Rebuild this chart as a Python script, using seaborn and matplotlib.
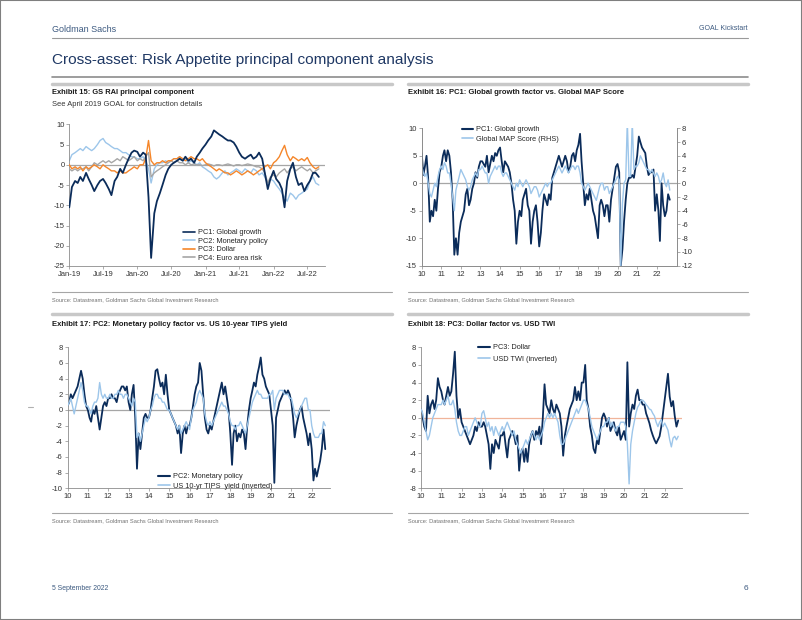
import pandas as pd
import matplotlib
matplotlib.use('Agg')
import matplotlib.pyplot as plt
import matplotlib.dates as mdates
from matplotlib.lines import Line2D
from matplotlib.patches import Rectangle
import seaborn as sns

# ---- data ----
# Exhibit 15: semi-monthly, Jan-19 .. Sep-22
rai_pc1 = [-10.5, -5.5, -4.0, -4.5, -3.0, -4.0, -2.0, -3.5, -5.0, -6.5,
           -5.0, -4.0, -3.5, -4.5, -6.0, -7.5, -4.0, -3.0, -1.0, -2.0,
           0.0, 1.5, 3.0, 3.5, 3.2, 2.0, 3.0, 2.5, -8.0, -23.0,
           -12.0, -9.0, -7.0, -5.0, -2.5, -1.0, 0.0, 0.5, 1.0, 1.5,
           1.0, 2.0, 1.0, 1.5, 0.5, 2.0, 3.0, 4.0, 5.0, 6.0,
           7.0, 8.5, 8.0, 7.5, 7.0, 6.5, 6.0, 6.0, 5.5, 4.5,
           3.0, 2.0, 1.5, 2.0, 2.5, 1.5, 2.0, 3.0, 1.5, -2.0,
           -6.0, -3.5, -1.5, -3.5, -4.5, -6.0, -10.5, -4.0, -1.0, 0.5,
           -3.0, -5.0, -4.5, -6.5, -5.0, -4.0, -2.0, -2.0, -3.0]
rai_pc2 = [1.0, 2.5, 3.0, 3.5, 4.0, 3.5, 4.5, 4.0, 3.5, 4.0,
           5.0, 6.0, 6.5, 5.5, 5.0, 4.5, 4.0, 4.0, 3.5, 3.0,
           3.0, 2.5, 2.0, 2.0, 1.5, 1.5, 2.0, 1.0, -1.0, -4.5,
           -1.0, 0.0, 0.5, 0.5, 1.0, 0.5, 1.0, 1.5, 1.5, 2.0,
           1.0, 1.5, 0.5, 1.0, 0.5, 0.0, 0.5, -0.5, -1.0, -1.5,
           -2.0, -3.0, -3.5, -3.0, -2.0, -1.5, -2.5, -2.0, -1.5, -1.0,
           -1.5, -2.0, -1.0, -1.5, -2.0, -1.0, -1.5, -2.5, -2.0, -3.0,
           -4.5, -3.5, -4.0, -5.0, -6.0, -7.0, -8.0, -9.0, -7.0, -7.5,
           -8.5, -7.5, -7.0, -6.5, -6.0, -4.0, -3.0, -4.5, -5.0]
rai_pc3 = [0.0, -1.0, -0.5, -1.0, -0.5, -1.5, -0.5, -1.0, -0.5, 0.0,
           -0.5, -1.0, 0.0, -0.5, -1.0, -1.5, -1.5, -2.0, -1.5, -2.0,
           -2.0, -1.5, -1.0, -0.5, -1.0, 0.0, 0.0, 1.5, 6.0, 1.0,
           0.0, 0.5, 0.5, 1.0, 0.5, 1.0, 1.0, 1.5, 1.5, 2.0,
           1.5, 1.0, 1.5, 2.0, 1.5, 1.5, 1.0, 1.5, 0.5, 0.0,
           -0.5, -1.0, -1.5, -1.0, -1.5, -2.0, -2.0, -2.5, -2.0, -1.5,
           -2.0, -2.5, -2.0, -1.5, -2.0, -2.5, -2.0, -1.5, -1.0, -0.5,
           0.0, -1.0, 0.5, 1.0, 2.0, 3.5, 4.8, 2.5, 1.0, 2.0,
           1.5, 1.0, 1.5, 1.0, 1.8, 0.5, -0.5, -1.0, -0.5]
rai_pc4 = [-1.0, -1.5, -1.0, -1.5, -1.0, -1.0, -0.5, -1.5, -0.5, 0.5,
           0.0, 0.5, 1.0, 0.5, 1.0, 0.5, 1.0, 1.5, 1.0, 2.0,
           1.5, 1.0, 1.5, 2.0, 1.0, 1.5, 1.0, 2.0, 3.0, -3.0,
           -2.0, -1.5, -1.0, -0.5, 0.0, 0.5, 1.0, 0.5, 1.0, 0.5,
           0.5, 0.0, 0.5, 0.0, 0.2, 0.0, 0.0, -0.2, 0.0, 0.2,
           0.0, -0.3, 0.0, 0.0, -0.2, 0.0, 0.2, 0.0, -0.3, 0.0,
           0.0, -0.2, 0.0, 0.2, 0.0, -0.2, -0.5, -0.5, -1.0, -2.0,
           -4.5, -3.0, -2.5, -3.0, -2.0, -1.5, -1.0, -2.0, -1.0, -0.5,
           -1.5, -1.0, -0.5, -1.0, -1.5, -1.0, -2.0, -1.5, -1.0]

# Exhibits 16-18: monthly, Jan-10 .. Sep-22
growth_pc1 = [5.5, 1.5, 3.0, 5.0, 1.0, -7.0, -5.0, -6.0, -3.0, -5.0, -1.0, 2.0,
              3.0, 5.0, 6.0, 4.0, 6.0, 5.0, 2.0, -3.0, -13.0, -10.0, -13.0, -9.0,
              -7.0, -6.0, -5.0, -2.0, -1.0, -4.0, -3.0, -1.0, 0.0, 2.0, 1.0, 3.0,
              4.0, 4.0, 3.5, 3.0, 5.0, 2.0, 3.5, 5.0, 4.0, 5.5, 5.0, 6.0,
              6.5, 4.0, 2.0, 4.0, 3.5, 3.0, 2.0, 0.0, -3.0, -5.0, -11.0, -7.0,
              -5.0, -6.0, -3.0, -2.0, -1.0, -4.0, -5.0, -11.0, -7.0, -5.0, -4.0, -7.0,
              -11.5, -9.0, -5.0, -2.0, -3.0, -4.0, -2.0, -3.0, 1.0, 2.0, 3.0, 4.0,
              5.0, 4.0, 3.0, 4.0, 5.0, 4.0, 2.0, 3.0, 5.0, 5.5, 4.0, 6.0,
              7.0, 9.0, 4.0, 0.0, -4.0, -2.0, -3.0, -1.0, -3.0, -5.0, -6.0, -8.0,
              -10.0, -4.0, -3.0, -4.0, -6.0, -4.0, -4.0, -7.0, -3.0, -1.0, 1.0, 3.0,
              3.5, 2.0, -15.0, -12.0, -7.0, -3.0, 0.0, 1.0, 1.0, 1.5, 1.0, 3.0,
              5.0, 8.5, 7.5, 6.5, 6.0, 5.5, 3.0, 1.5, 2.0, 2.0, 2.5, -5.0,
              -2.0, -5.0, -10.5, 0.0, -4.0, -6.0, -5.0, -2.0, -3.0]
map_score = [2.5, 1.5, 1.0, 1.5, 0.0, -1.5, -2.0, -1.0, 0.0, -0.5, 1.0, 2.0,
             2.5, 2.0, 3.0, 2.5, 1.5, 1.5, 0.0, -2.0, -4.0, -1.0, 0.0, 1.0,
             2.0, 1.5, 1.0, 0.5, -0.5, -1.0, -0.5, 0.5, 1.0, 1.5, 1.0, 2.0,
             2.0, 2.5, 2.0, 1.5, 1.5, 0.0, 1.0, 1.5, 2.0, 2.5, 2.0, 2.5,
             2.5, 1.5, 1.0, 1.5, 1.5, 1.0, 0.5, 0.0, -0.5, -1.0, 0.0, -0.5,
             0.5, 0.0, -0.5, 0.0, 0.5, 0.0, -0.5, -1.5, -1.0, -0.5, -0.5, -1.0,
             -2.0, -1.5, -1.0, -0.5, 0.0, -0.5, 0.0, 0.0, 0.5, 1.0, 1.5, 2.0,
             2.5, 2.0, 1.5, 2.0, 2.5, 2.0, 1.5, 2.0, 2.5, 2.5, 2.0, 2.5,
             2.5, 1.5, 0.0, -0.5, -1.0, -0.5, 0.0, -0.5, -1.0, -1.5, -2.0, -2.5,
             -1.5, -0.5, 0.0, 0.0, -1.0, -0.5, -0.5, -1.5, -1.0, -0.5, 0.0, 0.5,
             1.0, 0.5, -12.0, -3.0, 0.0, 0.5, 9.0, 1.0, 1.0, 9.0, 2.0, 2.5,
             2.5, 3.0, 4.0, 3.5, 3.0, 2.5, 2.0, 2.0, 1.5, 2.0, 1.5, 1.0,
             1.5, 1.0, 0.0, 0.5, 1.5, 0.0, -0.5, 0.5, -1.0]
policy_pc2 = [0.5, 1.0, 2.0, 1.5, 2.0, 2.5, 3.0, 4.0, 5.0, 4.0, 2.0, 0.5,
              0.0, -1.0, -1.5, 0.0, -0.5, 0.5, -1.0, -2.5, -1.0, 0.5, 1.0, 0.5,
              1.5, 1.5, 2.0, 1.5, 1.5, 1.0, 2.0, 2.5, 3.0, 3.0, 2.5, 3.0,
              1.0, 0.0, 2.0, 3.2, -1.0, -7.5, -3.0, -5.0, -3.0, -1.0, -0.5, -1.0,
              -1.0, 0.0, 1.5, 3.0, 5.0, 5.2, 4.0, 3.0, 3.5, 2.0, 4.5, 2.0,
              0.0, -0.5, -1.0, -1.5, -2.0, -3.0, -2.0, -5.5, -3.0, -2.0, -3.0, -2.0,
              -2.0, -1.0, 0.5, 2.0, 3.0, 3.5, 6.0, 5.0, 2.0, -1.0, -2.5, -3.0,
              -2.0, -2.5, -1.5, -0.5, 0.5, 1.5, 2.5, 3.5, 2.0, 3.0, 1.5, 0.0,
              -3.0, -7.0, -3.0, -2.0, -4.0, -3.0, -3.5, -2.5, -3.0, -5.0, -2.0, 0.0,
              1.5, 2.5, 3.5, 3.0, 4.5, 5.5, 6.7, 4.5, 4.0, 3.0, 2.5, 2.0,
              0.0, -2.0, -9.3, -1.0, 0.0, 1.0, 1.5, 2.0, 2.5, 2.0, 2.5, 2.0,
              1.0, -1.0, -3.5, -2.0, -1.0, 0.0, 0.5, -1.0, -2.0, -3.0, -4.5, -3.0,
              -5.0, -9.0, -7.5, -8.5, -7.5, -6.5, -5.0, -2.5, -5.0]
tips_inv = [0.5, 1.0, 1.5, 0.5, -0.5, 0.5, 1.5, 2.5, 3.5, 2.5, 1.0, 0.5,
            0.5, 0.0, -0.5, 0.5, 1.0, 1.0, 1.5, 3.5, 2.0, 1.5, 2.0, 1.5,
            1.5, 2.0, 1.5, 1.5, 2.0, 2.0, 2.5, 2.0, 2.0, 1.5, 2.0, 2.0,
            1.5, 1.0, 0.5, 1.5, 1.0, -3.5, -3.0, -4.0, -3.0, -2.0, -1.0, -1.5,
            -1.0, 0.0, 0.5, 1.5, 2.0, 2.0, 1.5, 1.5, 1.0, 1.0, 0.5, 0.0,
            0.0, -0.5, -1.0, -1.5, -2.0, -2.5, -2.0, -3.0, -2.5, -2.0, -1.5, -2.0,
            -2.5, -1.0, 0.0, 0.5, 1.0, 2.0, 2.5, 2.0, 1.5, -0.5, -1.5, -2.0,
            -1.5, -2.0, -1.5, -1.0, -0.5, 0.0, 0.5, 1.0, 0.5, 0.5, 0.0, -0.5,
            -1.5, -2.0, -2.0, -2.5, -2.0, -2.0, -1.5, -2.0, -2.5, -3.0, -2.0, -1.0,
            0.0, 1.0, 1.5, 2.0, 2.5, 2.0, 2.0, 1.5, 1.5, 1.5, 1.5, 2.0,
            2.0, 2.5, 0.0, 1.5, 2.0, 2.5, 2.5, 2.5, 2.0, 2.0, 2.0, 1.5,
            1.5, 0.5, -0.5, -1.0, -0.5, 0.0, 0.5, 1.0, 1.5, 1.5, 0.0, 0.0,
            -2.0, -3.0, -3.5, -3.5, -3.5, -3.0, -3.0, -1.5, -2.0]
dollar_pc3 = [1.0, 0.0, -1.0, -1.5, 2.5, 0.5, 1.5, 2.0, 1.0, 2.0, 4.5, 3.5,
              3.0, 2.0, 1.5, 2.5, 3.5, 2.5, 3.0, 5.0, 7.5, 2.5, 0.0, 1.0,
              -0.5, -1.0, -1.5, -2.0, -2.5, -3.0, -2.5, -2.0, -1.0, -1.5, -0.5, -1.0,
              -1.0, -0.5, -1.0, -2.0, -3.0, -5.8, -3.0, -4.0, -2.5, -3.0, -3.5, -2.0,
              -2.0, -1.5, -3.0, -4.5, -2.5, -2.0, -1.5, -2.0, -3.0, -2.0, -6.0, -4.0,
              -3.5, -5.0, -3.5, -5.0, -3.0, -2.0, -1.5, -2.5, -1.5, -2.0, -1.0, -3.0,
              0.0, 3.8, 1.5, 1.0, 0.5, 2.0, 1.0, 0.5, 1.5, 1.0, 0.5, -1.0,
              -4.3, -2.0, -1.0, 0.0, 1.0, 1.5, 2.0, 3.5, 2.0, 3.0, 2.0, 4.0,
              4.0, 6.0, 2.0, 1.0, -1.0, -2.0, -3.5, -4.0, -2.5, -3.0, -1.5, 0.0,
              0.5, 0.0, -1.0, 0.0, -1.5, -1.0, -0.5, -1.5, -2.0, -1.0, -2.5, -2.0,
              -1.5, -2.5, 6.3, -1.0, 0.5, 1.5, 1.0, 2.5, 3.2, 2.0, 2.0, 1.5,
              1.5, 0.5, 0.0, -0.6, -1.4, -2.0, -2.5, -2.9, -2.5, -2.1, -1.0, 0.5,
              2.0, 3.5, 5.0, 2.4, 1.3, 1.9, 0.2, -1.0, -0.3]
usd_twi_inv = [1.0, 0.5, -0.5, -1.5, -2.5, -2.0, -1.0, 0.0, 0.5, 1.0, 1.5, 1.5,
               1.5, 2.0, 1.5, 2.0, 2.5, 1.5, 1.5, 2.0, 1.0, -0.5, -1.5, -2.0,
               -2.0, -1.5, -1.0, -1.0, -2.0, -1.5, -1.0, -0.5, 0.0, -0.5, -1.0, -1.0,
               0.5, 0.8, 0.0, -1.0, -0.5, -1.5, -1.0, -2.0, -1.0, -1.5, -2.0, -1.5,
               -1.0, -1.5, -1.0, -0.5, -1.0, -1.5, -2.0, -1.5, -2.5, -3.0, -3.5, -4.0,
               -3.5, -3.0, -2.5, -3.0, -2.5, -2.0, -1.5, -2.0, -2.5, -2.0, -2.5, -2.0,
               -1.5, -0.5, 0.0, 0.5, 0.0, 0.5, 0.0, 0.5, 0.0, -0.5, -2.0, -3.0,
               -3.0, -2.5, -2.0, -1.5, -1.0, -0.5, 0.0, 0.5, 1.0, 0.5, 1.0, 1.5,
               2.0, 2.0, 1.5, 1.0, 0.0, -1.0, -1.5, -2.0, -2.5, -2.0, -1.5, -1.0,
               -1.0, -0.5, -0.5, 0.0, -1.0, -0.5, -1.0, -1.5, -1.0, -1.0, -0.5, -0.5,
               -0.5, -1.0, -3.0, -7.5, -3.0, -1.5, -0.5, 0.5, 1.2, 1.5, 2.0, 2.0,
               1.8, 1.5, 1.3, 1.0, 0.9, 0.5, 0.2, -0.5, -1.0, -0.5, -0.2, -1.0,
               -0.6, -1.0, -1.4, -2.5, -3.3, -2.3, -2.1, -2.5, -2.1]

rai_dates = pd.date_range('2019-01-01', periods=len(rai_pc1), freq='SMS')
long_dates = pd.date_range('2010-01-01', periods=len(growth_pc1), freq='MS')

# ---- style ----
NAVY = '#0b2c5a'
LIGHT = '#9dc6ea'
ORANGE = '#f5862a'
GREY = '#a6a6a6'
SALMON = '#f0b49a'
W, H = 802, 620

sns.set_style('ticks')
plt.rcParams['font.family'] = ['Liberation Sans', 'DejaVu Sans']
plt.rcParams['axes.unicode_minus'] = False


def fx(x):
    return x / W


def fy(y):
    return 1 - y / H


def add_axes_px(fig, left, top, right, bottom):
    return fig.add_axes([fx(left), fy(bottom), (right - left) / W, (bottom - top) / H])


def style_axis(ax, spines=('left', 'bottom')):
    for s in ['left', 'right', 'top', 'bottom']:
        ax.spines[s].set_visible(s in spines)
        ax.spines[s].set_color('#8c8c8c')
        ax.spines[s].set_linewidth(0.6)
    ax.tick_params(axis='both', labelsize=5.5, colors='#8c8c8c', labelcolor='#333333',
                   length=2, width=0.5, pad=1.5)
    ax.set_xlabel('')
    ax.set_ylabel('')


def hline(fig, x0, x1, y, color, lw):
    fig.add_artist(Line2D([fx(x0), fx(x1)], [fy(y), fy(y)], transform=fig.transFigure,
                          color=color, linewidth=lw))


def legend_px(ax, handles, labels, x, y, spacing):
    ax.legend(handles, labels, loc='upper left', bbox_to_anchor=(fx(x), fy(y)),
              bbox_transform=ax.figure.transFigure, frameon=False, fontsize=5.3,
              handlelength=1.6, handletextpad=0.4, borderpad=0, borderaxespad=0,
              labelspacing=spacing)


fig = plt.figure(figsize=(W / 100, H / 100), dpi=100)
renderer = fig.canvas.get_renderer()


def text_w(x, y, s, width, **kw):
    # place text, then scale its size so it spans the same width as in the reference
    t = fig.text(fx(x), fy(y), s, va='center', **kw)
    bb = t.get_window_extent(renderer)
    t.set_fontsize(t.get_fontsize() * width / bb.width)
    return t


# ---- page furniture ----
fig.add_artist(Rectangle((0, 0), 1, 1, transform=fig.transFigure, fill=False,
                         edgecolor='#7f7f7f', linewidth=1.5))
text_w(52, 29, 'Goldman Sachs', 64, fontsize=8, color='#3d5a80')
text_w(748, 29, 'GOAL Kickstart', 48, fontsize=6.5, color='#3d5a80', ha='right')
hline(fig, 52, 748, 38, '#9a9a9a', 0.8)
text_w(52, 60, 'Cross-asset: Risk Appetite principal component analysis', 384,
       fontsize=12, color='#1f3864')
hline(fig, 52, 748, 77, '#8c8c8c', 1.2)

for top_bar, src_line in [(84, 292), (314, 513)]:
    hline(fig, 52, 392, top_bar, '#c8c8c8', 2.5)
    hline(fig, 408, 748, top_bar, '#c8c8c8', 2.5)
    hline(fig, 52, 392, src_line, '#a6a6a6', 0.8)
    hline(fig, 408, 748, src_line, '#a6a6a6', 0.8)
    for x0 in (52, 408):
        text_w(x0, src_line + 8, 'Source: Datastream, Goldman Sachs Global Investment Research',
               167, fontsize=4.8, color='#6f6f6f')

title_kw = dict(fontsize=6.3, fontweight='bold', color='#1a1a1a')
text_w(52, 93, 'Exhibit 15: GS RAI principal component', 143, **title_kw)
text_w(52, 104, 'See April 2019 GOAL for construction details', 152,
       fontsize=6, color='#333333')
text_w(408, 93, 'Exhibit 16: PC1: Global growth factor vs. Global MAP Score', 217, **title_kw)
text_w(52, 325, 'Exhibit 17: PC2: Monetary policy factor vs. US 10-year TIPS yield', 235, **title_kw)
text_w(408, 325, 'Exhibit 18: PC3: Dollar factor vs. USD TWI', 148, **title_kw)

text_w(52, 588, '5 September 2022', 57, fontsize=6, color='#3d5a80')
fig.text(fx(748), fy(588), '6', fontsize=6, color='#3d5a80', va='center', ha='right')
hline(fig, 28, 33, 407, '#b0b0b0', 0.8)

# ---- Exhibit 15 ----
ax1 = add_axes_px(fig, 69.3, 124.3, 325, 266)
ax1.axhline(0, color=GREY, linewidth=0.9, zorder=1)
rai = pd.DataFrame({'date': rai_dates, 'pc1': rai_pc1, 'pc2': rai_pc2,
                    'pc3': rai_pc3, 'pc4': rai_pc4})
sns.lineplot(data=rai, x='date', y='pc2', ax=ax1, color=LIGHT, linewidth=1.0, zorder=2)
sns.lineplot(data=rai, x='date', y='pc4', ax=ax1, color=GREY, linewidth=1.0, zorder=3)
sns.lineplot(data=rai, x='date', y='pc3', ax=ax1, color=ORANGE, linewidth=1.0, zorder=4)
sns.lineplot(data=rai, x='date', y='pc1', ax=ax1, color=NAVY, linewidth=1.3, zorder=5)
ax1.set_ylim(-25, 10)
ax1.set_yticks(range(-25, 11, 5))
ax1.set_xlim(pd.Timestamp('2019-01-01'), pd.Timestamp('2022-10-04'))
ax1.set_xticks(pd.date_range('2019-01-01', '2022-07-01', freq='6MS'))
ax1.xaxis.set_major_formatter(mdates.DateFormatter('%b-%y'))
style_axis(ax1)
legend_px(ax1,
          [Line2D([], [], color=c, lw=1.2) for c in (NAVY, LIGHT, ORANGE, GREY)],
          ['PC1: Global growth', 'PC2: Monetary policy', 'PC3: Dollar', 'PC4: Euro area risk'],
          183, 229, 0.2)

# ---- Exhibit 16 ----
g = pd.DataFrame({'date': long_dates, 'pc1': growth_pc1, 'map': map_score})
ax2 = add_axes_px(fig, 421.7, 128.3, 676.7, 265.7)
ax2.axhline(0, color=GREY, linewidth=0.9, zorder=1)
sns.lineplot(data=g, x='date', y='pc1', ax=ax2, color=NAVY, linewidth=1.3, zorder=3)
ax2.set_ylim(-15, 10)
ax2.set_yticks(range(-15, 11, 5))
ax2r = ax2.twinx()
sns.lineplot(data=g, x='date', y='map', ax=ax2r, color=LIGHT, linewidth=1.0)
ax2r.set_ylim(-12, 8)
ax2r.set_yticks(range(-12, 9, 2))
for a in (ax2, ax2r):
    a.set_xlim(pd.Timestamp('2010-01-01'), pd.Timestamp('2023-01-08'))
ax2.set_xticks(pd.date_range('2010-01-01', '2022-01-01', freq='YS'))
ax2.xaxis.set_major_formatter(mdates.DateFormatter('%y'))
style_axis(ax2, ('left', 'bottom', 'right'))
style_axis(ax2r, ('left', 'bottom', 'right'))
legend_px(ax2r, [Line2D([], [], color=NAVY, lw=1.5), Line2D([], [], color=LIGHT, lw=1.2)],
          ['PC1: Global growth', 'Global MAP Score (RHS)'], 461.7, 126, 0.3)

# ---- Exhibit 17 ----
p = pd.DataFrame({'date': long_dates, 'pc2': policy_pc2, 'tips': tips_inv})
ax3 = add_axes_px(fig, 67.5, 347.3, 330, 488.3)
ax3.axhline(0, color=GREY, linewidth=0.9, zorder=1)
sns.lineplot(data=p, x='date', y='pc2', ax=ax3, color=NAVY, linewidth=1.3, zorder=2)
sns.lineplot(data=p, x='date', y='tips', ax=ax3, color=LIGHT, linewidth=1.0, zorder=3)
ax3.set_ylim(-10, 8)
ax3.set_yticks(range(-10, 9, 2))
ax3.set_xlim(pd.Timestamp('2010-01-01'), pd.Timestamp('2022-11-25'))
ax3.set_xticks(pd.date_range('2010-01-01', '2022-01-01', freq='YS'))
ax3.xaxis.set_major_formatter(mdates.DateFormatter('%y'))
style_axis(ax3)
legend_px(ax3, [Line2D([], [], color=NAVY, lw=1.5), Line2D([], [], color=LIGHT, lw=1.2)],
          ['PC2: Monetary policy', 'US 10-yr TIPS  yield (inverted)'], 158.3, 473, 0.3)

# ---- Exhibit 18 ----
d = pd.DataFrame({'date': long_dates, 'pc3': dollar_pc3, 'twi': usd_twi_inv})
ax4 = add_axes_px(fig, 421, 347.3, 681.7, 488.3)
ax4.axhline(0, color=SALMON, linewidth=0.9, zorder=1)
sns.lineplot(data=d, x='date', y='pc3', ax=ax4, color=NAVY, linewidth=1.3, zorder=2)
sns.lineplot(data=d, x='date', y='twi', ax=ax4, color=LIGHT, linewidth=1.0, zorder=3)
ax4.set_ylim(-8, 8)
ax4.set_yticks(range(-8, 9, 2))
ax4.set_xlim(pd.Timestamp('2010-01-01'), pd.Timestamp('2022-11-03'))
ax4.set_xticks(pd.date_range('2010-01-01', '2022-01-01', freq='YS'))
ax4.xaxis.set_major_formatter(mdates.DateFormatter('%y'))
style_axis(ax4)
legend_px(ax4, [Line2D([], [], color=NAVY, lw=1.5), Line2D([], [], color=LIGHT, lw=1.2)],
          ['PC3: Dollar', 'USD TWI (inverted)'], 478.3, 344, 0.6)

fig.savefig('out.png', dpi=100, facecolor='white')
